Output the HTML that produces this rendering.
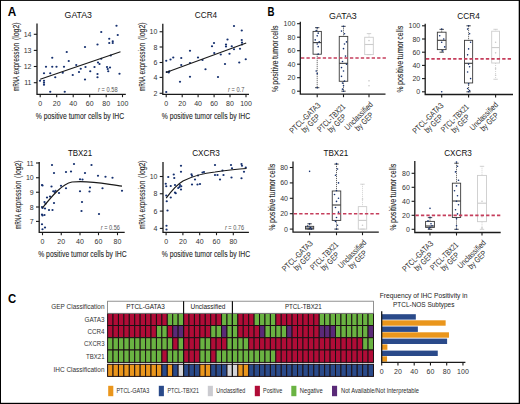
<!DOCTYPE html>
<html><head><meta charset="utf-8"><style>
html,body{margin:0;padding:0;background:#fff;}
svg{display:block;font-family:"Liberation Sans", sans-serif;}
</style></head><body>
<svg width="520" height="404" viewBox="0 0 520 404">
<rect x="0" y="0" width="520" height="404" fill="#000"/>
<rect x="1" y="0.9" width="517.7" height="401.9" fill="#fff"/>
<text x="7.7" y="15.8" font-size="12" font-weight="bold" fill="#000" textLength="8.5" lengthAdjust="spacingAndGlyphs">A</text>
<path d="M37,23.5 V94.4 H125.8" fill="none" stroke="#1a1a1a" stroke-width="1.3"/>
<path d="M33.8,34.3 H37" stroke="#1a1a1a" stroke-width="1.1"/>
<text x="31.50" y="36.80" font-size="7" text-anchor="end" fill="#333" >14</text>
<path d="M33.8,50.4 H37" stroke="#1a1a1a" stroke-width="1.1"/>
<text x="31.50" y="52.90" font-size="7" text-anchor="end" fill="#333" >13</text>
<path d="M33.8,66.5 H37" stroke="#1a1a1a" stroke-width="1.1"/>
<text x="31.50" y="69.00" font-size="7" text-anchor="end" fill="#333" >12</text>
<path d="M33.8,82.7 H37" stroke="#1a1a1a" stroke-width="1.1"/>
<text x="31.50" y="85.20" font-size="7" text-anchor="end" fill="#333" >11</text>
<path d="M40.2,94.4 V97.2" stroke="#1a1a1a" stroke-width="1.1"/>
<text x="40.20" y="106.30" font-size="7" text-anchor="middle" fill="#333" >0</text>
<path d="M56.7,94.4 V97.2" stroke="#1a1a1a" stroke-width="1.1"/>
<text x="56.70" y="106.30" font-size="7" text-anchor="middle" fill="#333" >20</text>
<path d="M73.2,94.4 V97.2" stroke="#1a1a1a" stroke-width="1.1"/>
<text x="73.20" y="106.30" font-size="7" text-anchor="middle" fill="#333" >40</text>
<path d="M89.7,94.4 V97.2" stroke="#1a1a1a" stroke-width="1.1"/>
<text x="89.70" y="106.30" font-size="7" text-anchor="middle" fill="#333" >60</text>
<path d="M106.2,94.4 V97.2" stroke="#1a1a1a" stroke-width="1.1"/>
<text x="106.20" y="106.30" font-size="7" text-anchor="middle" fill="#333" >80</text>
<path d="M122.5,94.4 V97.2" stroke="#1a1a1a" stroke-width="1.1"/>
<text x="122.50" y="106.30" font-size="7" text-anchor="middle" fill="#333" >100</text>
<text x="78.30" y="18.00" font-size="9.2" text-anchor="middle" fill="#111" textLength="27.4" lengthAdjust="spacingAndGlyphs" >GATA3</text>
<circle cx="40.00" cy="80.75" r="1.12" fill="#15306f"/>
<circle cx="44.00" cy="73.25" r="1.12" fill="#15306f"/>
<circle cx="44.00" cy="80.75" r="1.12" fill="#15306f"/>
<circle cx="44.00" cy="82.75" r="1.12" fill="#15306f"/>
<circle cx="44.00" cy="84.75" r="1.12" fill="#15306f"/>
<circle cx="46.00" cy="66.75" r="1.12" fill="#15306f"/>
<circle cx="50.25" cy="91.75" r="1.12" fill="#15306f"/>
<circle cx="50.25" cy="73.25" r="1.12" fill="#15306f"/>
<circle cx="52.25" cy="57.75" r="1.12" fill="#15306f"/>
<circle cx="52.25" cy="66.75" r="1.12" fill="#15306f"/>
<circle cx="55.25" cy="77.25" r="1.12" fill="#15306f"/>
<circle cx="56.50" cy="66.75" r="1.12" fill="#15306f"/>
<circle cx="62.75" cy="72.75" r="1.12" fill="#15306f"/>
<circle cx="64.00" cy="66.75" r="1.12" fill="#15306f"/>
<circle cx="64.75" cy="91.75" r="1.12" fill="#15306f"/>
<circle cx="66.75" cy="52.00" r="1.12" fill="#15306f"/>
<circle cx="68.75" cy="61.00" r="1.12" fill="#15306f"/>
<circle cx="72.75" cy="75.00" r="1.12" fill="#15306f"/>
<circle cx="76.25" cy="65.00" r="1.12" fill="#15306f"/>
<circle cx="79.00" cy="72.00" r="1.12" fill="#15306f"/>
<circle cx="80.75" cy="68.75" r="1.12" fill="#15306f"/>
<circle cx="85.00" cy="47.00" r="1.12" fill="#15306f"/>
<circle cx="85.00" cy="79.50" r="1.12" fill="#15306f"/>
<circle cx="85.50" cy="67.00" r="1.12" fill="#15306f"/>
<circle cx="90.25" cy="71.25" r="1.12" fill="#15306f"/>
<circle cx="94.50" cy="67.00" r="1.12" fill="#15306f"/>
<circle cx="97.50" cy="44.50" r="1.12" fill="#15306f"/>
<circle cx="97.50" cy="74.00" r="1.12" fill="#15306f"/>
<circle cx="97.50" cy="77.25" r="1.12" fill="#15306f"/>
<circle cx="98.00" cy="62.50" r="1.12" fill="#15306f"/>
<circle cx="99.50" cy="64.00" r="1.12" fill="#15306f"/>
<circle cx="101.25" cy="32.00" r="1.12" fill="#15306f"/>
<circle cx="101.25" cy="58.75" r="1.12" fill="#15306f"/>
<circle cx="107.00" cy="67.00" r="1.12" fill="#15306f"/>
<circle cx="107.75" cy="69.00" r="1.12" fill="#15306f"/>
<circle cx="108.25" cy="71.25" r="1.12" fill="#15306f"/>
<circle cx="109.25" cy="38.75" r="1.12" fill="#15306f"/>
<circle cx="109.25" cy="43.00" r="1.12" fill="#15306f"/>
<circle cx="110.00" cy="67.50" r="1.12" fill="#15306f"/>
<circle cx="110.75" cy="55.50" r="1.12" fill="#15306f"/>
<circle cx="112.75" cy="41.25" r="1.12" fill="#15306f"/>
<circle cx="112.75" cy="43.00" r="1.12" fill="#15306f"/>
<circle cx="116.50" cy="25.75" r="1.12" fill="#15306f"/>
<circle cx="117.75" cy="35.00" r="1.12" fill="#15306f"/>
<circle cx="119.50" cy="73.75" r="1.12" fill="#15306f"/>
<path d="M40.2,79.2 L120.5,51.8" fill="none" stroke="#1a1a1a" stroke-width="1.2"/>
<text x="117.7" y="91.9" font-size="6.3" text-anchor="end" fill="#555" textLength="19.6" lengthAdjust="spacingAndGlyphs"><tspan font-style="italic">r</tspan> = 0.58</text>
<g transform="translate(19,91) rotate(-90)" font-size="9.3" fill="#1e1e1e" stroke="#1e1e1e" stroke-width="0.1"><text x="0" y="0" textLength="14.7" lengthAdjust="spacingAndGlyphs">mRNA</text><text x="16.5" y="0" textLength="31.7" lengthAdjust="spacingAndGlyphs">expression</text><text x="51" y="0" textLength="17.5" lengthAdjust="spacingAndGlyphs">(log2)</text></g>
<text x="80.00" y="118.70" font-size="9.5" text-anchor="middle" fill="#1e1e1e" textLength="88.4" lengthAdjust="spacingAndGlyphs" stroke="#1e1e1e" stroke-width="0.1">% positive tumor cells by IHC</text>
<path d="M162.8,23.7 V94.4 H249" fill="none" stroke="#1a1a1a" stroke-width="1.3"/>
<path d="M159.60000000000002,31.75 H162.8" stroke="#1a1a1a" stroke-width="1.1"/>
<text x="157.30" y="34.25" font-size="7" text-anchor="end" fill="#333" >10</text>
<path d="M159.60000000000002,47 H162.8" stroke="#1a1a1a" stroke-width="1.1"/>
<text x="157.30" y="49.50" font-size="7" text-anchor="end" fill="#333" >8</text>
<path d="M159.60000000000002,62.5 H162.8" stroke="#1a1a1a" stroke-width="1.1"/>
<text x="157.30" y="65.00" font-size="7" text-anchor="end" fill="#333" >6</text>
<path d="M159.60000000000002,77.4 H162.8" stroke="#1a1a1a" stroke-width="1.1"/>
<text x="157.30" y="79.90" font-size="7" text-anchor="end" fill="#333" >4</text>
<path d="M159.60000000000002,93.3 H162.8" stroke="#1a1a1a" stroke-width="1.1"/>
<text x="157.30" y="95.80" font-size="7" text-anchor="end" fill="#333" >2</text>
<path d="M166.2,94.4 V97.2" stroke="#1a1a1a" stroke-width="1.1"/>
<text x="166.20" y="106.30" font-size="7" text-anchor="middle" fill="#333" >0</text>
<path d="M182.2,94.4 V97.2" stroke="#1a1a1a" stroke-width="1.1"/>
<text x="182.20" y="106.30" font-size="7" text-anchor="middle" fill="#333" >20</text>
<path d="M198.1,94.4 V97.2" stroke="#1a1a1a" stroke-width="1.1"/>
<text x="198.10" y="106.30" font-size="7" text-anchor="middle" fill="#333" >40</text>
<path d="M214.1,94.4 V97.2" stroke="#1a1a1a" stroke-width="1.1"/>
<text x="214.10" y="106.30" font-size="7" text-anchor="middle" fill="#333" >60</text>
<path d="M230,94.4 V97.2" stroke="#1a1a1a" stroke-width="1.1"/>
<text x="230.00" y="106.30" font-size="7" text-anchor="middle" fill="#333" >80</text>
<path d="M246,94.4 V97.2" stroke="#1a1a1a" stroke-width="1.1"/>
<text x="246.00" y="106.30" font-size="7" text-anchor="middle" fill="#333" >100</text>
<text x="206.00" y="18.30" font-size="9.2" text-anchor="middle" fill="#111" textLength="22.3" lengthAdjust="spacingAndGlyphs" >CCR4</text>
<circle cx="166.25" cy="92.00" r="1.12" fill="#15306f"/>
<circle cx="166.25" cy="60.75" r="1.12" fill="#15306f"/>
<circle cx="166.75" cy="72.00" r="1.12" fill="#15306f"/>
<circle cx="168.75" cy="72.50" r="1.12" fill="#15306f"/>
<circle cx="169.25" cy="71.25" r="1.12" fill="#15306f"/>
<circle cx="170.50" cy="59.50" r="1.12" fill="#15306f"/>
<circle cx="173.25" cy="57.50" r="1.12" fill="#15306f"/>
<circle cx="180.00" cy="81.75" r="1.12" fill="#15306f"/>
<circle cx="181.25" cy="58.00" r="1.12" fill="#15306f"/>
<circle cx="181.25" cy="65.00" r="1.12" fill="#15306f"/>
<circle cx="190.00" cy="50.75" r="1.12" fill="#15306f"/>
<circle cx="190.00" cy="76.75" r="1.12" fill="#15306f"/>
<circle cx="190.00" cy="63.00" r="1.12" fill="#15306f"/>
<circle cx="198.00" cy="57.50" r="1.12" fill="#15306f"/>
<circle cx="202.50" cy="60.00" r="1.12" fill="#15306f"/>
<circle cx="205.50" cy="69.25" r="1.12" fill="#15306f"/>
<circle cx="212.00" cy="46.25" r="1.12" fill="#15306f"/>
<circle cx="214.00" cy="43.00" r="1.12" fill="#15306f"/>
<circle cx="214.25" cy="53.00" r="1.12" fill="#15306f"/>
<circle cx="218.00" cy="77.00" r="1.12" fill="#15306f"/>
<circle cx="220.75" cy="54.50" r="1.12" fill="#15306f"/>
<circle cx="225.00" cy="64.00" r="1.12" fill="#15306f"/>
<circle cx="226.00" cy="44.50" r="1.12" fill="#15306f"/>
<circle cx="226.00" cy="46.50" r="1.12" fill="#15306f"/>
<circle cx="227.50" cy="39.50" r="1.12" fill="#15306f"/>
<circle cx="229.50" cy="53.75" r="1.12" fill="#15306f"/>
<circle cx="231.75" cy="46.25" r="1.12" fill="#15306f"/>
<circle cx="234.00" cy="26.00" r="1.12" fill="#15306f"/>
<circle cx="234.00" cy="49.25" r="1.12" fill="#15306f"/>
<circle cx="239.25" cy="62.50" r="1.12" fill="#15306f"/>
<circle cx="240.00" cy="48.75" r="1.12" fill="#15306f"/>
<circle cx="241.75" cy="30.50" r="1.12" fill="#15306f"/>
<circle cx="241.75" cy="40.00" r="1.12" fill="#15306f"/>
<circle cx="242.00" cy="42.50" r="1.12" fill="#15306f"/>
<circle cx="242.00" cy="44.50" r="1.12" fill="#15306f"/>
<circle cx="245.75" cy="59.25" r="1.12" fill="#15306f"/>
<path d="M166,72.5 L246.2,43" fill="none" stroke="#1a1a1a" stroke-width="1.2"/>
<text x="244.4" y="91.5" font-size="6.3" text-anchor="end" fill="#555" textLength="16.4" lengthAdjust="spacingAndGlyphs"><tspan font-style="italic">r</tspan> = 0.7</text>
<g transform="translate(145,91) rotate(-90)" font-size="9.3" fill="#1e1e1e" stroke="#1e1e1e" stroke-width="0.1"><text x="0" y="0" textLength="14.7" lengthAdjust="spacingAndGlyphs">mRNA</text><text x="16.5" y="0" textLength="31.7" lengthAdjust="spacingAndGlyphs">expression</text><text x="51" y="0" textLength="17.5" lengthAdjust="spacingAndGlyphs">(log2)</text></g>
<text x="206.00" y="118.70" font-size="9.5" text-anchor="middle" fill="#1e1e1e" textLength="88.4" lengthAdjust="spacingAndGlyphs" stroke="#1e1e1e" stroke-width="0.1">% positive tumor cells by IHC</text>
<path d="M39.2,162 V232.4 H124.7" fill="none" stroke="#1a1a1a" stroke-width="1.3"/>
<path d="M36.0,163 H39.2" stroke="#1a1a1a" stroke-width="1.1"/>
<text x="33.70" y="165.50" font-size="7" text-anchor="end" fill="#333" >11</text>
<path d="M36.0,177.75 H39.2" stroke="#1a1a1a" stroke-width="1.1"/>
<text x="33.70" y="180.25" font-size="7" text-anchor="end" fill="#333" >10</text>
<path d="M36.0,192.25 H39.2" stroke="#1a1a1a" stroke-width="1.1"/>
<text x="33.70" y="194.75" font-size="7" text-anchor="end" fill="#333" >9</text>
<path d="M36.0,207 H39.2" stroke="#1a1a1a" stroke-width="1.1"/>
<text x="33.70" y="209.50" font-size="7" text-anchor="end" fill="#333" >8</text>
<path d="M36.0,221.4 H39.2" stroke="#1a1a1a" stroke-width="1.1"/>
<text x="33.70" y="223.90" font-size="7" text-anchor="end" fill="#333" >7</text>
<path d="M42.5,232.4 V235.20000000000002" stroke="#1a1a1a" stroke-width="1.1"/>
<text x="42.50" y="244.30" font-size="7" text-anchor="middle" fill="#333" >0</text>
<path d="M61.25,232.4 V235.20000000000002" stroke="#1a1a1a" stroke-width="1.1"/>
<text x="61.25" y="244.30" font-size="7" text-anchor="middle" fill="#333" >20</text>
<path d="M80,232.4 V235.20000000000002" stroke="#1a1a1a" stroke-width="1.1"/>
<text x="80.00" y="244.30" font-size="7" text-anchor="middle" fill="#333" >40</text>
<path d="M98.5,232.4 V235.20000000000002" stroke="#1a1a1a" stroke-width="1.1"/>
<text x="98.50" y="244.30" font-size="7" text-anchor="middle" fill="#333" >60</text>
<path d="M117.5,232.4 V235.20000000000002" stroke="#1a1a1a" stroke-width="1.1"/>
<text x="117.50" y="244.30" font-size="7" text-anchor="middle" fill="#333" >80</text>
<text x="80.00" y="156.10" font-size="9.2" text-anchor="middle" fill="#111" textLength="24.2" lengthAdjust="spacingAndGlyphs" >TBX21</text>
<circle cx="42.00" cy="185.00" r="1.12" fill="#15306f"/>
<circle cx="42.50" cy="185.50" r="1.12" fill="#15306f"/>
<circle cx="42.00" cy="207.00" r="1.12" fill="#15306f"/>
<circle cx="42.50" cy="208.00" r="1.12" fill="#15306f"/>
<circle cx="42.00" cy="214.50" r="1.12" fill="#15306f"/>
<circle cx="42.50" cy="215.50" r="1.12" fill="#15306f"/>
<circle cx="42.00" cy="224.25" r="1.12" fill="#15306f"/>
<circle cx="42.50" cy="229.25" r="1.12" fill="#15306f"/>
<circle cx="45.00" cy="227.50" r="1.12" fill="#15306f"/>
<circle cx="44.50" cy="202.00" r="1.12" fill="#15306f"/>
<circle cx="45.00" cy="208.50" r="1.12" fill="#15306f"/>
<circle cx="44.50" cy="215.00" r="1.12" fill="#15306f"/>
<circle cx="45.50" cy="203.75" r="1.12" fill="#15306f"/>
<circle cx="47.00" cy="197.50" r="1.12" fill="#15306f"/>
<circle cx="49.00" cy="210.00" r="1.12" fill="#15306f"/>
<circle cx="50.00" cy="196.50" r="1.12" fill="#15306f"/>
<circle cx="51.50" cy="186.50" r="1.12" fill="#15306f"/>
<circle cx="52.00" cy="165.00" r="1.12" fill="#15306f"/>
<circle cx="52.50" cy="210.00" r="1.12" fill="#15306f"/>
<circle cx="53.25" cy="191.25" r="1.12" fill="#15306f"/>
<circle cx="54.00" cy="173.00" r="1.12" fill="#15306f"/>
<circle cx="54.00" cy="203.00" r="1.12" fill="#15306f"/>
<circle cx="54.75" cy="192.00" r="1.12" fill="#15306f"/>
<circle cx="55.50" cy="190.75" r="1.12" fill="#15306f"/>
<circle cx="59.00" cy="193.00" r="1.12" fill="#15306f"/>
<circle cx="61.00" cy="185.75" r="1.12" fill="#15306f"/>
<circle cx="66.00" cy="172.00" r="1.12" fill="#15306f"/>
<circle cx="66.00" cy="188.25" r="1.12" fill="#15306f"/>
<circle cx="71.00" cy="171.50" r="1.12" fill="#15306f"/>
<circle cx="74.00" cy="164.00" r="1.12" fill="#15306f"/>
<circle cx="80.00" cy="179.25" r="1.12" fill="#15306f"/>
<circle cx="80.00" cy="191.25" r="1.12" fill="#15306f"/>
<circle cx="82.50" cy="179.50" r="1.12" fill="#15306f"/>
<circle cx="82.00" cy="202.00" r="1.12" fill="#15306f"/>
<circle cx="81.50" cy="211.00" r="1.12" fill="#15306f"/>
<circle cx="85.00" cy="173.00" r="1.12" fill="#15306f"/>
<circle cx="89.50" cy="191.50" r="1.12" fill="#15306f"/>
<circle cx="90.00" cy="187.50" r="1.12" fill="#15306f"/>
<circle cx="91.50" cy="165.00" r="1.12" fill="#15306f"/>
<circle cx="98.00" cy="175.75" r="1.12" fill="#15306f"/>
<circle cx="99.00" cy="214.00" r="1.12" fill="#15306f"/>
<circle cx="102.50" cy="188.25" r="1.12" fill="#15306f"/>
<circle cx="105.50" cy="176.75" r="1.12" fill="#15306f"/>
<circle cx="112.50" cy="177.75" r="1.12" fill="#15306f"/>
<circle cx="122.00" cy="190.75" r="1.12" fill="#15306f"/>
<path d="M42.5,207.8 C52,196 62,184 72,182 C90,180 105,184 122,186.2" fill="none" stroke="#1a1a1a" stroke-width="1.2"/>
<text x="119.9" y="229.5" font-size="6.3" text-anchor="end" fill="#555" textLength="19.2" lengthAdjust="spacingAndGlyphs"><tspan font-style="italic">r</tspan> = 0.56</text>
<g transform="translate(21.4,228.9) rotate(-90)" font-size="9.3" fill="#1e1e1e" stroke="#1e1e1e" stroke-width="0.1"><text x="0" y="0" textLength="14.7" lengthAdjust="spacingAndGlyphs">mRNA</text><text x="16.5" y="0" textLength="31.7" lengthAdjust="spacingAndGlyphs">expression</text><text x="51" y="0" textLength="17.5" lengthAdjust="spacingAndGlyphs">(log2)</text></g>
<text x="82.40" y="256.70" font-size="9.5" text-anchor="middle" fill="#1e1e1e" textLength="88.4" lengthAdjust="spacingAndGlyphs" stroke="#1e1e1e" stroke-width="0.1">% positive tumor cells by IHC</text>
<path d="M163,162 V232.4 H248.9" fill="none" stroke="#1a1a1a" stroke-width="1.3"/>
<path d="M159.8,176.5 H163" stroke="#1a1a1a" stroke-width="1.1"/>
<text x="157.50" y="179.00" font-size="7" text-anchor="end" fill="#333" >10</text>
<path d="M159.8,193.75 H163" stroke="#1a1a1a" stroke-width="1.1"/>
<text x="157.50" y="196.25" font-size="7" text-anchor="end" fill="#333" >8</text>
<path d="M159.8,211.1 H163" stroke="#1a1a1a" stroke-width="1.1"/>
<text x="157.50" y="213.60" font-size="7" text-anchor="end" fill="#333" >6</text>
<path d="M159.8,228.4 H163" stroke="#1a1a1a" stroke-width="1.1"/>
<text x="157.50" y="230.90" font-size="7" text-anchor="end" fill="#333" >4</text>
<path d="M166.1,232.4 V235.20000000000002" stroke="#1a1a1a" stroke-width="1.1"/>
<text x="166.10" y="244.30" font-size="7" text-anchor="middle" fill="#333" >0</text>
<path d="M182.9,232.4 V235.20000000000002" stroke="#1a1a1a" stroke-width="1.1"/>
<text x="182.90" y="244.30" font-size="7" text-anchor="middle" fill="#333" >20</text>
<path d="M199.7,232.4 V235.20000000000002" stroke="#1a1a1a" stroke-width="1.1"/>
<text x="199.70" y="244.30" font-size="7" text-anchor="middle" fill="#333" >40</text>
<path d="M216.5,232.4 V235.20000000000002" stroke="#1a1a1a" stroke-width="1.1"/>
<text x="216.50" y="244.30" font-size="7" text-anchor="middle" fill="#333" >60</text>
<path d="M233.3,232.4 V235.20000000000002" stroke="#1a1a1a" stroke-width="1.1"/>
<text x="233.30" y="244.30" font-size="7" text-anchor="middle" fill="#333" >80</text>
<text x="206.00" y="156.10" font-size="9.2" text-anchor="middle" fill="#111" textLength="27.7" lengthAdjust="spacingAndGlyphs" >CXCR3</text>
<circle cx="165.75" cy="183.75" r="1.12" fill="#15306f"/>
<circle cx="166.25" cy="186.25" r="1.12" fill="#15306f"/>
<circle cx="166.25" cy="195.50" r="1.12" fill="#15306f"/>
<circle cx="166.75" cy="201.25" r="1.12" fill="#15306f"/>
<circle cx="167.50" cy="210.50" r="1.12" fill="#15306f"/>
<circle cx="166.50" cy="225.75" r="1.12" fill="#15306f"/>
<circle cx="166.50" cy="229.50" r="1.12" fill="#15306f"/>
<circle cx="168.25" cy="177.00" r="1.12" fill="#15306f"/>
<circle cx="170.75" cy="186.00" r="1.12" fill="#15306f"/>
<circle cx="170.75" cy="197.50" r="1.12" fill="#15306f"/>
<circle cx="173.75" cy="174.50" r="1.12" fill="#15306f"/>
<circle cx="174.25" cy="178.00" r="1.12" fill="#15306f"/>
<circle cx="175.00" cy="185.00" r="1.12" fill="#15306f"/>
<circle cx="175.00" cy="192.50" r="1.12" fill="#15306f"/>
<circle cx="175.75" cy="193.25" r="1.12" fill="#15306f"/>
<circle cx="178.25" cy="188.00" r="1.12" fill="#15306f"/>
<circle cx="179.50" cy="187.00" r="1.12" fill="#15306f"/>
<circle cx="180.00" cy="185.00" r="1.12" fill="#15306f"/>
<circle cx="181.00" cy="189.50" r="1.12" fill="#15306f"/>
<circle cx="181.00" cy="165.75" r="1.12" fill="#15306f"/>
<circle cx="181.00" cy="171.75" r="1.12" fill="#15306f"/>
<circle cx="181.25" cy="186.25" r="1.12" fill="#15306f"/>
<circle cx="191.50" cy="174.25" r="1.12" fill="#15306f"/>
<circle cx="192.00" cy="175.75" r="1.12" fill="#15306f"/>
<circle cx="192.00" cy="184.50" r="1.12" fill="#15306f"/>
<circle cx="195.00" cy="179.50" r="1.12" fill="#15306f"/>
<circle cx="198.00" cy="175.50" r="1.12" fill="#15306f"/>
<circle cx="197.50" cy="184.50" r="1.12" fill="#15306f"/>
<circle cx="200.00" cy="184.00" r="1.12" fill="#15306f"/>
<circle cx="202.50" cy="172.50" r="1.12" fill="#15306f"/>
<circle cx="204.00" cy="172.00" r="1.12" fill="#15306f"/>
<circle cx="215.00" cy="165.00" r="1.12" fill="#15306f"/>
<circle cx="215.00" cy="175.00" r="1.12" fill="#15306f"/>
<circle cx="217.50" cy="175.00" r="1.12" fill="#15306f"/>
<circle cx="220.00" cy="179.50" r="1.12" fill="#15306f"/>
<circle cx="222.50" cy="170.50" r="1.12" fill="#15306f"/>
<circle cx="223.50" cy="175.00" r="1.12" fill="#15306f"/>
<circle cx="231.00" cy="165.00" r="1.12" fill="#15306f"/>
<circle cx="231.50" cy="177.50" r="1.12" fill="#15306f"/>
<circle cx="232.00" cy="168.25" r="1.12" fill="#15306f"/>
<circle cx="241.50" cy="164.00" r="1.12" fill="#15306f"/>
<circle cx="242.00" cy="165.75" r="1.12" fill="#15306f"/>
<circle cx="241.50" cy="178.25" r="1.12" fill="#15306f"/>
<circle cx="244.00" cy="171.75" r="1.12" fill="#15306f"/>
<circle cx="245.75" cy="167.50" r="1.12" fill="#15306f"/>
<path d="M166.2,198.2 C172,190 178,184 183,181 C195,175 205,173 215,172 C230,170 240,169 246.5,168.5" fill="none" stroke="#1a1a1a" stroke-width="1.2"/>
<text x="244.1" y="229.5" font-size="6.3" text-anchor="end" fill="#555" textLength="19.2" lengthAdjust="spacingAndGlyphs"><tspan font-style="italic">r</tspan> = 0.76</text>
<g transform="translate(145.2,228.9) rotate(-90)" font-size="9.3" fill="#1e1e1e" stroke="#1e1e1e" stroke-width="0.1"><text x="0" y="0" textLength="14.7" lengthAdjust="spacingAndGlyphs">mRNA</text><text x="16.5" y="0" textLength="31.7" lengthAdjust="spacingAndGlyphs">expression</text><text x="51" y="0" textLength="17.5" lengthAdjust="spacingAndGlyphs">(log2)</text></g>
<text x="206.00" y="256.70" font-size="9.5" text-anchor="middle" fill="#1e1e1e" textLength="88.4" lengthAdjust="spacingAndGlyphs" stroke="#1e1e1e" stroke-width="0.1">% positive tumor cells by IHC</text>
<text x="267.5" y="16.2" font-size="12.3" font-weight="bold" fill="#000" textLength="7" lengthAdjust="spacingAndGlyphs">B</text>
<path d="M300.3,21.8 V94.2 H385.5" fill="none" stroke="#1a1a1a" stroke-width="1.3"/>
<path d="M297.1,91.20 H300.3" stroke="#1a1a1a" stroke-width="1.1"/>
<text x="295.30" y="93.70" font-size="7" text-anchor="end" fill="#333" >0</text>
<path d="M297.1,77.70 H300.3" stroke="#1a1a1a" stroke-width="1.1"/>
<text x="295.30" y="80.20" font-size="7" text-anchor="end" fill="#333" >20</text>
<path d="M297.1,64.20 H300.3" stroke="#1a1a1a" stroke-width="1.1"/>
<text x="295.30" y="66.70" font-size="7" text-anchor="end" fill="#333" >40</text>
<path d="M297.1,50.70 H300.3" stroke="#1a1a1a" stroke-width="1.1"/>
<text x="295.30" y="53.20" font-size="7" text-anchor="end" fill="#333" >60</text>
<path d="M297.1,37.20 H300.3" stroke="#1a1a1a" stroke-width="1.1"/>
<text x="295.30" y="39.70" font-size="7" text-anchor="end" fill="#333" >80</text>
<path d="M297.1,23.70 H300.3" stroke="#1a1a1a" stroke-width="1.1"/>
<text x="295.30" y="26.20" font-size="7" text-anchor="end" fill="#333" >100</text>
<text x="342.90" y="18.50" font-size="9.2" text-anchor="middle" fill="#111" textLength="27.7" lengthAdjust="spacingAndGlyphs" >GATA3</text>
<g transform="translate(277.8,92.1) rotate(-90)" font-size="9.3" fill="#1e1e1e" stroke="#1e1e1e" stroke-width="0.1"><text x="0" y="0" textLength="5.9" lengthAdjust="spacingAndGlyphs">%</text><text x="7.4" y="0" textLength="24.3" lengthAdjust="spacingAndGlyphs">positive</text><text x="33" y="0" textLength="18.8" lengthAdjust="spacingAndGlyphs">tumor</text><text x="52.8" y="0" textLength="13.9" lengthAdjust="spacingAndGlyphs">cells</text></g>
<path d="M317.2,94.2 V97.2" stroke="#1a1a1a" stroke-width="1.1"/>
<path d="M317.2,27.68 V31.40 M317.2,54.21 V87.69" stroke="#3a3a3a" stroke-width="0.9" stroke-dasharray="1,1"/>
<path d="M315.0,27.68 H319.4 M315.0,87.69 H319.4" stroke="#3a3a3a" stroke-width="0.9"/>
<rect x="313.05" y="31.40" width="8.3" height="22.81" fill="none" stroke="#3a3a3a" stroke-width="0.9"/>
<path d="M313.05,42.60 H321.35" stroke="#3a3a3a" stroke-width="1.1"/>
<circle cx="317.20" cy="27.75" r="0.8" fill="#15306f"/>
<circle cx="316.20" cy="30.45" r="0.8" fill="#15306f"/>
<circle cx="318.20" cy="33.15" r="0.8" fill="#15306f"/>
<circle cx="317.20" cy="35.85" r="0.8" fill="#15306f"/>
<circle cx="315.20" cy="39.90" r="0.8" fill="#15306f"/>
<circle cx="319.20" cy="41.92" r="0.8" fill="#15306f"/>
<circle cx="317.20" cy="43.95" r="0.8" fill="#15306f"/>
<circle cx="318.20" cy="46.65" r="0.8" fill="#15306f"/>
<circle cx="318.20" cy="54.08" r="0.8" fill="#15306f"/>
<circle cx="316.20" cy="70.95" r="0.8" fill="#15306f"/>
<circle cx="317.20" cy="73.65" r="0.8" fill="#15306f"/>
<circle cx="317.20" cy="87.83" r="0.8" fill="#15306f"/>
<g transform="translate(317.20,94.20) rotate(-45)" font-size="8.3" fill="#2a2a2a" text-anchor="middle"><text x="-25.5" y="10.9" textLength="40" lengthAdjust="spacingAndGlyphs">PTCL-GATA3</text><text x="-25.3" y="18.8" textLength="22.3" lengthAdjust="spacingAndGlyphs">by GEP</text></g>
<path d="M343.5,94.2 V97.2" stroke="#1a1a1a" stroke-width="1.1"/>
<path d="M343.5,26.33 V36.39 M343.5,81.28 V91.20" stroke="#3a3a3a" stroke-width="0.9" stroke-dasharray="1,1"/>
<path d="M341.3,26.33 H345.7 M341.3,91.20 H345.7" stroke="#3a3a3a" stroke-width="0.9"/>
<rect x="339.25" y="36.39" width="8.5" height="44.89" fill="none" stroke="#3a3a3a" stroke-width="0.9"/>
<path d="M339.25,63.32 H347.75" stroke="#3a3a3a" stroke-width="1.1"/>
<circle cx="343.50" cy="26.40" r="0.8" fill="#15306f"/>
<circle cx="341.50" cy="31.12" r="0.8" fill="#15306f"/>
<circle cx="344.50" cy="33.82" r="0.8" fill="#15306f"/>
<circle cx="346.50" cy="41.92" r="0.8" fill="#15306f"/>
<circle cx="344.50" cy="43.95" r="0.8" fill="#15306f"/>
<circle cx="343.50" cy="48.67" r="0.8" fill="#15306f"/>
<circle cx="345.50" cy="56.10" r="0.8" fill="#15306f"/>
<circle cx="342.50" cy="61.50" r="0.8" fill="#15306f"/>
<circle cx="346.50" cy="64.20" r="0.8" fill="#15306f"/>
<circle cx="341.50" cy="67.58" r="0.8" fill="#15306f"/>
<circle cx="343.50" cy="70.95" r="0.8" fill="#15306f"/>
<circle cx="341.50" cy="76.35" r="0.8" fill="#15306f"/>
<circle cx="344.50" cy="81.08" r="0.8" fill="#15306f"/>
<circle cx="342.50" cy="83.10" r="0.8" fill="#15306f"/>
<circle cx="343.50" cy="85.80" r="0.8" fill="#15306f"/>
<circle cx="342.50" cy="89.17" r="0.8" fill="#15306f"/>
<circle cx="343.50" cy="91.20" r="0.8" fill="#15306f"/>
<g transform="translate(343.50,94.20) rotate(-45)" font-size="8.3" fill="#2a2a2a" text-anchor="middle"><text x="-25.5" y="10.9" textLength="35.7" lengthAdjust="spacingAndGlyphs">PTCL-TBX21</text><text x="-25.3" y="18.8" textLength="22.3" lengthAdjust="spacingAndGlyphs">by GEP</text></g>
<path d="M369,94.2 V97.2" stroke="#1a1a1a" stroke-width="1.1"/>
<path d="M369,33.62 V37.27 M369,54.62 V54.62" stroke="#cccccc" stroke-width="0.9" stroke-dasharray="1,1"/>
<path d="M366.8,33.62 H371.2 M366.8,54.62 H371.2" stroke="#cccccc" stroke-width="0.9"/>
<rect x="364.70" y="37.27" width="8.6" height="17.35" fill="none" stroke="#cccccc" stroke-width="0.9"/>
<path d="M364.70,44.49 H373.30" stroke="#cccccc" stroke-width="1.1"/>
<circle cx="369.00" cy="40.58" r="0.8" fill="#c9c9c9"/>
<circle cx="369.00" cy="80.87" r="0.8" fill="#c9c9c9"/>
<circle cx="369.00" cy="85.80" r="0.8" fill="#c9c9c9"/>
<g transform="translate(369.00,94.20) rotate(-45)" font-size="8.3" fill="#2a2a2a" text-anchor="middle"><text x="-22.7" y="10.9" textLength="36.2" lengthAdjust="spacingAndGlyphs">Unclassified</text><text x="-22.7" y="18.8" textLength="22.3" lengthAdjust="spacingAndGlyphs">by GEP</text></g>
<path d="M301.0,58.00 H385.9" stroke="#c53e5c" stroke-width="1.65" stroke-dasharray="3.337,2.1"/>
<path d="M425.2,23.8 V94.5 H513" fill="none" stroke="#1a1a1a" stroke-width="1.3"/>
<path d="M422.0,91.80 H425.2" stroke="#1a1a1a" stroke-width="1.1"/>
<text x="420.20" y="94.30" font-size="7" text-anchor="end" fill="#333" >0</text>
<path d="M422.0,78.60 H425.2" stroke="#1a1a1a" stroke-width="1.1"/>
<text x="420.20" y="81.10" font-size="7" text-anchor="end" fill="#333" >20</text>
<path d="M422.0,65.40 H425.2" stroke="#1a1a1a" stroke-width="1.1"/>
<text x="420.20" y="67.90" font-size="7" text-anchor="end" fill="#333" >40</text>
<path d="M422.0,52.20 H425.2" stroke="#1a1a1a" stroke-width="1.1"/>
<text x="420.20" y="54.70" font-size="7" text-anchor="end" fill="#333" >60</text>
<path d="M422.0,39.00 H425.2" stroke="#1a1a1a" stroke-width="1.1"/>
<text x="420.20" y="41.50" font-size="7" text-anchor="end" fill="#333" >80</text>
<path d="M422.0,25.80 H425.2" stroke="#1a1a1a" stroke-width="1.1"/>
<text x="420.20" y="28.30" font-size="7" text-anchor="end" fill="#333" >100</text>
<text x="468.60" y="18.50" font-size="9.2" text-anchor="middle" fill="#111" textLength="22.5" lengthAdjust="spacingAndGlyphs" >CCR4</text>
<g transform="translate(402.5,92.5) rotate(-90)" font-size="9.3" fill="#1e1e1e" stroke="#1e1e1e" stroke-width="0.1"><text x="0" y="0" textLength="5.9" lengthAdjust="spacingAndGlyphs">%</text><text x="7.4" y="0" textLength="24.3" lengthAdjust="spacingAndGlyphs">positive</text><text x="33" y="0" textLength="18.8" lengthAdjust="spacingAndGlyphs">tumor</text><text x="52.8" y="0" textLength="13.9" lengthAdjust="spacingAndGlyphs">cells</text></g>
<path d="M441.7,94.5 V97.5" stroke="#1a1a1a" stroke-width="1.1"/>
<path d="M441.7,29.36 V32.20 M441.7,49.63 V52.20" stroke="#3a3a3a" stroke-width="0.9" stroke-dasharray="1,1"/>
<path d="M439.5,29.36 H443.9 M439.5,52.20 H443.9" stroke="#3a3a3a" stroke-width="0.9"/>
<rect x="437.35" y="32.20" width="8.7" height="17.42" fill="none" stroke="#3a3a3a" stroke-width="0.9"/>
<path d="M437.35,40.32 H446.05" stroke="#3a3a3a" stroke-width="1.1"/>
<circle cx="441.70" cy="29.10" r="0.8" fill="#15306f"/>
<circle cx="439.70" cy="35.70" r="0.8" fill="#15306f"/>
<circle cx="443.70" cy="39.00" r="0.8" fill="#15306f"/>
<circle cx="441.70" cy="42.30" r="0.8" fill="#15306f"/>
<circle cx="444.70" cy="46.92" r="0.8" fill="#15306f"/>
<circle cx="442.70" cy="50.88" r="0.8" fill="#15306f"/>
<circle cx="441.70" cy="91.80" r="0.8" fill="#15306f"/>
<g transform="translate(440.20,94.50) rotate(-45)" font-size="8.3" fill="#2a2a2a" text-anchor="middle"><text x="-25.5" y="10.9" textLength="40" lengthAdjust="spacingAndGlyphs">PTCL-GATA3</text><text x="-25.3" y="18.8" textLength="22.3" lengthAdjust="spacingAndGlyphs">by GEP</text></g>
<path d="M468.6,94.5 V97.5" stroke="#1a1a1a" stroke-width="1.1"/>
<path d="M468.6,25.80 V40.32 M468.6,82.96 V91.80" stroke="#3a3a3a" stroke-width="0.9" stroke-dasharray="1,1"/>
<path d="M466.40000000000003,25.80 H470.8 M466.40000000000003,91.80 H470.8" stroke="#3a3a3a" stroke-width="0.9"/>
<rect x="464.55" y="40.32" width="8.1" height="42.64" fill="none" stroke="#3a3a3a" stroke-width="0.9"/>
<path d="M464.55,63.29 H472.65" stroke="#3a3a3a" stroke-width="1.1"/>
<circle cx="468.60" cy="25.80" r="0.8" fill="#15306f"/>
<circle cx="467.60" cy="29.10" r="0.8" fill="#15306f"/>
<circle cx="469.60" cy="33.72" r="0.8" fill="#15306f"/>
<circle cx="470.60" cy="42.30" r="0.8" fill="#15306f"/>
<circle cx="468.60" cy="48.90" r="0.8" fill="#15306f"/>
<circle cx="467.60" cy="54.84" r="0.8" fill="#15306f"/>
<circle cx="470.60" cy="58.80" r="0.8" fill="#15306f"/>
<circle cx="468.60" cy="64.08" r="0.8" fill="#15306f"/>
<circle cx="469.60" cy="66.72" r="0.8" fill="#15306f"/>
<circle cx="467.60" cy="72.00" r="0.8" fill="#15306f"/>
<circle cx="470.60" cy="78.60" r="0.8" fill="#15306f"/>
<circle cx="468.60" cy="83.88" r="0.8" fill="#15306f"/>
<circle cx="467.60" cy="88.50" r="0.8" fill="#15306f"/>
<circle cx="469.60" cy="90.48" r="0.8" fill="#15306f"/>
<circle cx="468.60" cy="91.80" r="0.8" fill="#15306f"/>
<g transform="translate(467.10,94.50) rotate(-45)" font-size="8.3" fill="#2a2a2a" text-anchor="middle"><text x="-25.5" y="10.9" textLength="35.7" lengthAdjust="spacingAndGlyphs">PTCL-TBX21</text><text x="-25.3" y="18.8" textLength="22.3" lengthAdjust="spacingAndGlyphs">by GEP</text></g>
<path d="M495.6,94.5 V97.5" stroke="#1a1a1a" stroke-width="1.1"/>
<path d="M495.6,29.30 V31.21 M495.6,63.02 V79.26" stroke="#cccccc" stroke-width="0.9" stroke-dasharray="1,1"/>
<path d="M493.40000000000003,29.30 H497.8 M493.40000000000003,79.26 H497.8" stroke="#cccccc" stroke-width="0.9"/>
<rect x="491.70" y="31.21" width="7.8" height="31.81" fill="none" stroke="#cccccc" stroke-width="0.9"/>
<path d="M491.70,47.58 H499.50" stroke="#cccccc" stroke-width="1.1"/>
<circle cx="495.60" cy="42.30" r="0.8" fill="#c9c9c9"/>
<circle cx="495.60" cy="52.86" r="0.8" fill="#c9c9c9"/>
<circle cx="495.60" cy="68.70" r="0.8" fill="#c9c9c9"/>
<circle cx="495.60" cy="75.30" r="0.8" fill="#c9c9c9"/>
<g transform="translate(494.10,94.50) rotate(-45)" font-size="8.3" fill="#2a2a2a" text-anchor="middle"><text x="-22.7" y="10.9" textLength="36.2" lengthAdjust="spacingAndGlyphs">Unclassified</text><text x="-22.7" y="18.8" textLength="22.3" lengthAdjust="spacingAndGlyphs">by GEP</text></g>
<path d="M425.9,58.80 H511" stroke="#c53e5c" stroke-width="1.65" stroke-dasharray="3.350,2.1"/>
<path d="M293,161.4 V232.2 H378.8" fill="none" stroke="#1a1a1a" stroke-width="1.3"/>
<path d="M289.8,229.10 H293" stroke="#1a1a1a" stroke-width="1.1"/>
<text x="288.00" y="231.60" font-size="7" text-anchor="end" fill="#333" >0</text>
<path d="M289.8,213.70 H293" stroke="#1a1a1a" stroke-width="1.1"/>
<text x="288.00" y="216.20" font-size="7" text-anchor="end" fill="#333" >20</text>
<path d="M289.8,198.30 H293" stroke="#1a1a1a" stroke-width="1.1"/>
<text x="288.00" y="200.80" font-size="7" text-anchor="end" fill="#333" >40</text>
<path d="M289.8,182.90 H293" stroke="#1a1a1a" stroke-width="1.1"/>
<text x="288.00" y="185.40" font-size="7" text-anchor="end" fill="#333" >60</text>
<path d="M289.8,167.50 H293" stroke="#1a1a1a" stroke-width="1.1"/>
<text x="288.00" y="170.00" font-size="7" text-anchor="end" fill="#333" >80</text>
<text x="335.90" y="156.10" font-size="9.2" text-anchor="middle" fill="#111" textLength="24.8" lengthAdjust="spacingAndGlyphs" >TBX21</text>
<g transform="translate(274.5,230.5) rotate(-90)" font-size="9.3" fill="#1e1e1e" stroke="#1e1e1e" stroke-width="0.1"><text x="0" y="0" textLength="5.9" lengthAdjust="spacingAndGlyphs">%</text><text x="7.4" y="0" textLength="24.3" lengthAdjust="spacingAndGlyphs">positive</text><text x="33" y="0" textLength="18.8" lengthAdjust="spacingAndGlyphs">tumor</text><text x="52.8" y="0" textLength="13.9" lengthAdjust="spacingAndGlyphs">cells</text></g>
<path d="M309.6,232.2 V235.2" stroke="#1a1a1a" stroke-width="1.1"/>
<path d="M309.6,223.79 V226.33 M309.6,229.10 V229.10" stroke="#3a3a3a" stroke-width="0.9" stroke-dasharray="1,1"/>
<path d="M307.40000000000003,223.79 H311.8 M307.40000000000003,229.10 H311.8" stroke="#3a3a3a" stroke-width="0.9"/>
<rect x="305.50" y="226.33" width="8.2" height="2.77" fill="none" stroke="#3a3a3a" stroke-width="0.9"/>
<path d="M305.50,228.10 H313.70" stroke="#3a3a3a" stroke-width="1.1"/>
<circle cx="309.60" cy="171.35" r="0.8" fill="#15306f"/>
<circle cx="309.60" cy="223.71" r="0.8" fill="#15306f"/>
<circle cx="307.60" cy="226.02" r="0.8" fill="#15306f"/>
<circle cx="310.60" cy="227.56" r="0.8" fill="#15306f"/>
<circle cx="309.60" cy="228.33" r="0.8" fill="#15306f"/>
<circle cx="311.60" cy="229.10" r="0.8" fill="#15306f"/>
<g transform="translate(309.60,232.20) rotate(-45)" font-size="8.3" fill="#2a2a2a" text-anchor="middle"><text x="-25.5" y="10.9" textLength="40" lengthAdjust="spacingAndGlyphs">PTCL-GATA3</text><text x="-25.3" y="18.8" textLength="22.3" lengthAdjust="spacingAndGlyphs">by GEP</text></g>
<path d="M336.5,232.2 V235.2" stroke="#1a1a1a" stroke-width="1.1"/>
<path d="M336.5,164.11 V190.98 M336.5,220.40 V229.10" stroke="#3a3a3a" stroke-width="0.9" stroke-dasharray="1,1"/>
<path d="M334.3,164.11 H338.7 M334.3,229.10 H338.7" stroke="#3a3a3a" stroke-width="0.9"/>
<rect x="332.25" y="190.98" width="8.5" height="29.41" fill="none" stroke="#3a3a3a" stroke-width="0.9"/>
<path d="M332.25,205.00 H340.75" stroke="#3a3a3a" stroke-width="1.1"/>
<circle cx="336.50" cy="163.65" r="0.8" fill="#15306f"/>
<circle cx="337.50" cy="169.04" r="0.8" fill="#15306f"/>
<circle cx="335.50" cy="175.20" r="0.8" fill="#15306f"/>
<circle cx="338.50" cy="182.90" r="0.8" fill="#15306f"/>
<circle cx="336.50" cy="190.60" r="0.8" fill="#15306f"/>
<circle cx="334.50" cy="194.45" r="0.8" fill="#15306f"/>
<circle cx="338.50" cy="198.30" r="0.8" fill="#15306f"/>
<circle cx="336.50" cy="201.38" r="0.8" fill="#15306f"/>
<circle cx="335.50" cy="207.54" r="0.8" fill="#15306f"/>
<circle cx="338.50" cy="212.16" r="0.8" fill="#15306f"/>
<circle cx="336.50" cy="217.55" r="0.8" fill="#15306f"/>
<circle cx="335.50" cy="221.40" r="0.8" fill="#15306f"/>
<circle cx="337.50" cy="225.25" r="0.8" fill="#15306f"/>
<circle cx="336.50" cy="229.10" r="0.8" fill="#15306f"/>
<g transform="translate(336.50,232.20) rotate(-45)" font-size="8.3" fill="#2a2a2a" text-anchor="middle"><text x="-25.5" y="10.9" textLength="35.7" lengthAdjust="spacingAndGlyphs">PTCL-TBX21</text><text x="-25.3" y="18.8" textLength="22.3" lengthAdjust="spacingAndGlyphs">by GEP</text></g>
<path d="M362.5,232.2 V235.2" stroke="#1a1a1a" stroke-width="1.1"/>
<path d="M362.5,184.21 V206.62 M362.5,229.10 V229.10" stroke="#cccccc" stroke-width="0.9" stroke-dasharray="1,1"/>
<path d="M360.3,184.21 H364.7 M360.3,229.10 H364.7" stroke="#cccccc" stroke-width="0.9"/>
<rect x="358.30" y="206.62" width="8.4" height="22.48" fill="none" stroke="#cccccc" stroke-width="0.9"/>
<path d="M358.30,220.40 H366.70" stroke="#cccccc" stroke-width="1.1"/>
<circle cx="362.50" cy="199.07" r="0.8" fill="#c9c9c9"/>
<circle cx="362.50" cy="225.25" r="0.8" fill="#c9c9c9"/>
<g transform="translate(362.50,232.20) rotate(-45)" font-size="8.3" fill="#2a2a2a" text-anchor="middle"><text x="-22.7" y="10.9" textLength="36.2" lengthAdjust="spacingAndGlyphs">Unclassified</text><text x="-22.7" y="18.8" textLength="22.3" lengthAdjust="spacingAndGlyphs">by GEP</text></g>
<path d="M293.7,213.70 H379.2" stroke="#c53e5c" stroke-width="1.65" stroke-dasharray="3.375,2.1"/>
<path d="M414.8,161.1 V232.5 H500.7" fill="none" stroke="#1a1a1a" stroke-width="1.3"/>
<path d="M411.6,229.30 H414.8" stroke="#1a1a1a" stroke-width="1.1"/>
<text x="409.80" y="231.80" font-size="7" text-anchor="end" fill="#333" >0</text>
<path d="M411.6,215.30 H414.8" stroke="#1a1a1a" stroke-width="1.1"/>
<text x="409.80" y="217.80" font-size="7" text-anchor="end" fill="#333" >20</text>
<path d="M411.6,201.30 H414.8" stroke="#1a1a1a" stroke-width="1.1"/>
<text x="409.80" y="203.80" font-size="7" text-anchor="end" fill="#333" >40</text>
<path d="M411.6,187.30 H414.8" stroke="#1a1a1a" stroke-width="1.1"/>
<text x="409.80" y="189.80" font-size="7" text-anchor="end" fill="#333" >60</text>
<path d="M411.6,173.30 H414.8" stroke="#1a1a1a" stroke-width="1.1"/>
<text x="409.80" y="175.80" font-size="7" text-anchor="end" fill="#333" >80</text>
<text x="458.00" y="156.10" font-size="9.2" text-anchor="middle" fill="#111" textLength="27.7" lengthAdjust="spacingAndGlyphs" >CXCR3</text>
<g transform="translate(396.4,230.5) rotate(-90)" font-size="9.3" fill="#1e1e1e" stroke="#1e1e1e" stroke-width="0.1"><text x="0" y="0" textLength="5.9" lengthAdjust="spacingAndGlyphs">%</text><text x="7.4" y="0" textLength="24.3" lengthAdjust="spacingAndGlyphs">positive</text><text x="33" y="0" textLength="18.8" lengthAdjust="spacingAndGlyphs">tumor</text><text x="52.8" y="0" textLength="13.9" lengthAdjust="spacingAndGlyphs">cells</text></g>
<path d="M430,232.5 V235.5" stroke="#1a1a1a" stroke-width="1.1"/>
<path d="M430,217.61 V221.39 M430,227.41 V229.30" stroke="#3a3a3a" stroke-width="0.9" stroke-dasharray="1,1"/>
<path d="M427.8,217.61 H432.2 M427.8,229.30 H432.2" stroke="#3a3a3a" stroke-width="0.9"/>
<rect x="425.60" y="221.39" width="8.8" height="6.02" fill="none" stroke="#3a3a3a" stroke-width="0.9"/>
<path d="M425.60,226.01 H434.40" stroke="#3a3a3a" stroke-width="1.1"/>
<circle cx="430.00" cy="208.37" r="0.8" fill="#15306f"/>
<circle cx="430.00" cy="217.40" r="0.8" fill="#15306f"/>
<circle cx="428.00" cy="220.90" r="0.8" fill="#15306f"/>
<circle cx="431.00" cy="223.70" r="0.8" fill="#15306f"/>
<circle cx="432.00" cy="225.80" r="0.8" fill="#15306f"/>
<circle cx="430.00" cy="227.20" r="0.8" fill="#15306f"/>
<circle cx="429.00" cy="228.60" r="0.8" fill="#15306f"/>
<g transform="translate(430.00,232.50) rotate(-45)" font-size="8.3" fill="#2a2a2a" text-anchor="middle"><text x="-25.5" y="10.9" textLength="40" lengthAdjust="spacingAndGlyphs">PTCL-GATA3</text><text x="-25.3" y="18.8" textLength="22.3" lengthAdjust="spacingAndGlyphs">by GEP</text></g>
<path d="M456.5,232.5 V235.5" stroke="#1a1a1a" stroke-width="1.1"/>
<path d="M456.5,163.22 V183.17 M456.5,217.47 V229.30" stroke="#3a3a3a" stroke-width="0.9" stroke-dasharray="1,1"/>
<path d="M454.3,163.22 H458.7 M454.3,229.30 H458.7" stroke="#3a3a3a" stroke-width="0.9"/>
<rect x="452.35" y="183.17" width="8.3" height="34.30" fill="none" stroke="#3a3a3a" stroke-width="0.9"/>
<path d="M452.35,201.02 H460.65" stroke="#3a3a3a" stroke-width="1.1"/>
<circle cx="456.50" cy="162.10" r="0.8" fill="#15306f"/>
<circle cx="457.50" cy="166.30" r="0.8" fill="#15306f"/>
<circle cx="455.50" cy="171.90" r="0.8" fill="#15306f"/>
<circle cx="458.50" cy="180.30" r="0.8" fill="#15306f"/>
<circle cx="456.50" cy="185.90" r="0.8" fill="#15306f"/>
<circle cx="454.50" cy="190.80" r="0.8" fill="#15306f"/>
<circle cx="457.50" cy="195.70" r="0.8" fill="#15306f"/>
<circle cx="456.50" cy="201.30" r="0.8" fill="#15306f"/>
<circle cx="458.50" cy="204.80" r="0.8" fill="#15306f"/>
<circle cx="455.50" cy="209.70" r="0.8" fill="#15306f"/>
<circle cx="457.50" cy="213.90" r="0.8" fill="#15306f"/>
<circle cx="456.50" cy="218.80" r="0.8" fill="#15306f"/>
<circle cx="456.50" cy="225.80" r="0.8" fill="#15306f"/>
<circle cx="456.50" cy="229.30" r="0.8" fill="#15306f"/>
<g transform="translate(456.50,232.50) rotate(-45)" font-size="8.3" fill="#2a2a2a" text-anchor="middle"><text x="-25.5" y="10.9" textLength="35.7" lengthAdjust="spacingAndGlyphs">PTCL-TBX21</text><text x="-25.3" y="18.8" textLength="22.3" lengthAdjust="spacingAndGlyphs">by GEP</text></g>
<path d="M482,232.5 V235.5" stroke="#1a1a1a" stroke-width="1.1"/>
<path d="M482,166.30 V175.40 M482,221.67 V229.30" stroke="#cccccc" stroke-width="0.9" stroke-dasharray="1,1"/>
<path d="M479.8,166.30 H484.2 M479.8,229.30 H484.2" stroke="#cccccc" stroke-width="0.9"/>
<rect x="477.55" y="175.40" width="8.9" height="46.27" fill="none" stroke="#cccccc" stroke-width="0.9"/>
<path d="M477.55,203.19 H486.45" stroke="#cccccc" stroke-width="1.1"/>
<circle cx="482.00" cy="201.30" r="0.8" fill="#c9c9c9"/>
<circle cx="482.00" cy="216.70" r="0.8" fill="#c9c9c9"/>
<circle cx="482.00" cy="227.90" r="0.8" fill="#c9c9c9"/>
<g transform="translate(482.00,232.50) rotate(-45)" font-size="8.3" fill="#2a2a2a" text-anchor="middle"><text x="-22.7" y="10.9" textLength="36.2" lengthAdjust="spacingAndGlyphs">Unclassified</text><text x="-22.7" y="18.8" textLength="22.3" lengthAdjust="spacingAndGlyphs">by GEP</text></g>
<path d="M415.5,215.30 H500.3" stroke="#c53e5c" stroke-width="1.65" stroke-dasharray="3.331,2.1"/>
<text x="8" y="303" font-size="12.3" font-weight="bold" fill="#000" textLength="8.2" lengthAdjust="spacingAndGlyphs">C</text>
<rect x="107.60" y="313.30" width="5.43" height="12.20" fill="#b00c37" stroke="#1c1014" stroke-width="1"/>
<rect x="113.03" y="313.30" width="5.43" height="12.20" fill="#b00c37" stroke="#1c1014" stroke-width="1"/>
<rect x="118.45" y="313.30" width="5.43" height="12.20" fill="#b00c37" stroke="#1c1014" stroke-width="1"/>
<rect x="123.88" y="313.30" width="5.43" height="12.20" fill="#b00c37" stroke="#1c1014" stroke-width="1"/>
<rect x="129.31" y="313.30" width="5.43" height="12.20" fill="#b00c37" stroke="#1c1014" stroke-width="1"/>
<rect x="134.73" y="313.30" width="5.43" height="12.20" fill="#b00c37" stroke="#1c1014" stroke-width="1"/>
<rect x="140.16" y="313.30" width="5.43" height="12.20" fill="#b00c37" stroke="#1c1014" stroke-width="1"/>
<rect x="145.59" y="313.30" width="5.43" height="12.20" fill="#b00c37" stroke="#1c1014" stroke-width="1"/>
<rect x="151.01" y="313.30" width="5.43" height="12.20" fill="#b00c37" stroke="#1c1014" stroke-width="1"/>
<rect x="156.44" y="313.30" width="5.43" height="12.20" fill="#b00c37" stroke="#1c1014" stroke-width="1"/>
<rect x="161.87" y="313.30" width="5.43" height="12.20" fill="#b00c37" stroke="#1c1014" stroke-width="1"/>
<rect x="167.29" y="313.30" width="5.43" height="12.20" fill="#6ab342" stroke="#1c1014" stroke-width="1"/>
<rect x="172.72" y="313.30" width="5.43" height="12.20" fill="#6ab342" stroke="#1c1014" stroke-width="1"/>
<rect x="178.14" y="313.30" width="5.43" height="12.20" fill="#6ab342" stroke="#1c1014" stroke-width="1"/>
<rect x="183.57" y="313.30" width="5.43" height="12.20" fill="#b00c37" stroke="#1c1014" stroke-width="1"/>
<rect x="189.00" y="313.30" width="5.43" height="12.20" fill="#b00c37" stroke="#1c1014" stroke-width="1"/>
<rect x="194.42" y="313.30" width="5.43" height="12.20" fill="#b00c37" stroke="#1c1014" stroke-width="1"/>
<rect x="199.85" y="313.30" width="5.43" height="12.20" fill="#b00c37" stroke="#1c1014" stroke-width="1"/>
<rect x="205.28" y="313.30" width="5.43" height="12.20" fill="#b00c37" stroke="#1c1014" stroke-width="1"/>
<rect x="210.70" y="313.30" width="5.43" height="12.20" fill="#b00c37" stroke="#1c1014" stroke-width="1"/>
<rect x="216.13" y="313.30" width="5.43" height="12.20" fill="#b00c37" stroke="#1c1014" stroke-width="1"/>
<rect x="221.56" y="313.30" width="5.43" height="12.20" fill="#6ab342" stroke="#1c1014" stroke-width="1"/>
<rect x="226.98" y="313.30" width="5.43" height="12.20" fill="#6ab342" stroke="#1c1014" stroke-width="1"/>
<rect x="232.41" y="313.30" width="5.43" height="12.20" fill="#6ab342" stroke="#1c1014" stroke-width="1"/>
<rect x="237.84" y="313.30" width="5.43" height="12.20" fill="#b00c37" stroke="#1c1014" stroke-width="1"/>
<rect x="243.26" y="313.30" width="5.43" height="12.20" fill="#b00c37" stroke="#1c1014" stroke-width="1"/>
<rect x="248.69" y="313.30" width="5.43" height="12.20" fill="#b00c37" stroke="#1c1014" stroke-width="1"/>
<rect x="254.12" y="313.30" width="5.43" height="12.20" fill="#6ab342" stroke="#1c1014" stroke-width="1"/>
<rect x="259.54" y="313.30" width="5.43" height="12.20" fill="#6ab342" stroke="#1c1014" stroke-width="1"/>
<rect x="264.97" y="313.30" width="5.43" height="12.20" fill="#6ab342" stroke="#1c1014" stroke-width="1"/>
<rect x="270.40" y="313.30" width="5.43" height="12.20" fill="#6ab342" stroke="#1c1014" stroke-width="1"/>
<rect x="275.82" y="313.30" width="5.43" height="12.20" fill="#b00c37" stroke="#1c1014" stroke-width="1"/>
<rect x="281.25" y="313.30" width="5.43" height="12.20" fill="#b00c37" stroke="#1c1014" stroke-width="1"/>
<rect x="286.68" y="313.30" width="5.43" height="12.20" fill="#b00c37" stroke="#1c1014" stroke-width="1"/>
<rect x="292.10" y="313.30" width="5.43" height="12.20" fill="#b00c37" stroke="#1c1014" stroke-width="1"/>
<rect x="297.53" y="313.30" width="5.43" height="12.20" fill="#b00c37" stroke="#1c1014" stroke-width="1"/>
<rect x="302.96" y="313.30" width="5.43" height="12.20" fill="#b00c37" stroke="#1c1014" stroke-width="1"/>
<rect x="308.38" y="313.30" width="5.43" height="12.20" fill="#b00c37" stroke="#1c1014" stroke-width="1"/>
<rect x="313.81" y="313.30" width="5.43" height="12.20" fill="#b00c37" stroke="#1c1014" stroke-width="1"/>
<rect x="319.23" y="313.30" width="5.43" height="12.20" fill="#6ab342" stroke="#1c1014" stroke-width="1"/>
<rect x="324.66" y="313.30" width="5.43" height="12.20" fill="#6ab342" stroke="#1c1014" stroke-width="1"/>
<rect x="330.09" y="313.30" width="5.43" height="12.20" fill="#6ab342" stroke="#1c1014" stroke-width="1"/>
<rect x="335.51" y="313.30" width="5.43" height="12.20" fill="#6ab342" stroke="#1c1014" stroke-width="1"/>
<rect x="340.94" y="313.30" width="5.43" height="12.20" fill="#6ab342" stroke="#1c1014" stroke-width="1"/>
<rect x="346.37" y="313.30" width="5.43" height="12.20" fill="#6ab342" stroke="#1c1014" stroke-width="1"/>
<rect x="351.79" y="313.30" width="5.43" height="12.20" fill="#6ab342" stroke="#1c1014" stroke-width="1"/>
<rect x="357.22" y="313.30" width="5.43" height="12.20" fill="#6ab342" stroke="#1c1014" stroke-width="1"/>
<rect x="362.65" y="313.30" width="5.43" height="12.20" fill="#6ab342" stroke="#1c1014" stroke-width="1"/>
<rect x="368.07" y="313.30" width="5.43" height="12.20" fill="#6ab342" stroke="#1c1014" stroke-width="1"/>
<rect x="107.60" y="325.50" width="5.43" height="12.20" fill="#b00c37" stroke="#1c1014" stroke-width="1"/>
<rect x="113.03" y="325.50" width="5.43" height="12.20" fill="#b00c37" stroke="#1c1014" stroke-width="1"/>
<rect x="118.45" y="325.50" width="5.43" height="12.20" fill="#b00c37" stroke="#1c1014" stroke-width="1"/>
<rect x="123.88" y="325.50" width="5.43" height="12.20" fill="#b00c37" stroke="#1c1014" stroke-width="1"/>
<rect x="129.31" y="325.50" width="5.43" height="12.20" fill="#b00c37" stroke="#1c1014" stroke-width="1"/>
<rect x="134.73" y="325.50" width="5.43" height="12.20" fill="#b00c37" stroke="#1c1014" stroke-width="1"/>
<rect x="140.16" y="325.50" width="5.43" height="12.20" fill="#b00c37" stroke="#1c1014" stroke-width="1"/>
<rect x="145.59" y="325.50" width="5.43" height="12.20" fill="#b00c37" stroke="#1c1014" stroke-width="1"/>
<rect x="151.01" y="325.50" width="5.43" height="12.20" fill="#b00c37" stroke="#1c1014" stroke-width="1"/>
<rect x="156.44" y="325.50" width="5.43" height="12.20" fill="#6ab342" stroke="#1c1014" stroke-width="1"/>
<rect x="161.87" y="325.50" width="5.43" height="12.20" fill="#6ab342" stroke="#1c1014" stroke-width="1"/>
<rect x="167.29" y="325.50" width="5.43" height="12.20" fill="#b00c37" stroke="#1c1014" stroke-width="1"/>
<rect x="172.72" y="325.50" width="5.43" height="12.20" fill="#5a2a78" stroke="#1c1014" stroke-width="1"/>
<rect x="178.14" y="325.50" width="5.43" height="12.20" fill="#5a2a78" stroke="#1c1014" stroke-width="1"/>
<rect x="183.57" y="325.50" width="5.43" height="12.20" fill="#b00c37" stroke="#1c1014" stroke-width="1"/>
<rect x="189.00" y="325.50" width="5.43" height="12.20" fill="#b00c37" stroke="#1c1014" stroke-width="1"/>
<rect x="194.42" y="325.50" width="5.43" height="12.20" fill="#b00c37" stroke="#1c1014" stroke-width="1"/>
<rect x="199.85" y="325.50" width="5.43" height="12.20" fill="#b00c37" stroke="#1c1014" stroke-width="1"/>
<rect x="205.28" y="325.50" width="5.43" height="12.20" fill="#b00c37" stroke="#1c1014" stroke-width="1"/>
<rect x="210.70" y="325.50" width="5.43" height="12.20" fill="#6ab342" stroke="#1c1014" stroke-width="1"/>
<rect x="216.13" y="325.50" width="5.43" height="12.20" fill="#6ab342" stroke="#1c1014" stroke-width="1"/>
<rect x="221.56" y="325.50" width="5.43" height="12.20" fill="#5a2a78" stroke="#1c1014" stroke-width="1"/>
<rect x="226.98" y="325.50" width="5.43" height="12.20" fill="#6ab342" stroke="#1c1014" stroke-width="1"/>
<rect x="232.41" y="325.50" width="5.43" height="12.20" fill="#6ab342" stroke="#1c1014" stroke-width="1"/>
<rect x="237.84" y="325.50" width="5.43" height="12.20" fill="#b00c37" stroke="#1c1014" stroke-width="1"/>
<rect x="243.26" y="325.50" width="5.43" height="12.20" fill="#b00c37" stroke="#1c1014" stroke-width="1"/>
<rect x="248.69" y="325.50" width="5.43" height="12.20" fill="#b00c37" stroke="#1c1014" stroke-width="1"/>
<rect x="254.12" y="325.50" width="5.43" height="12.20" fill="#b00c37" stroke="#1c1014" stroke-width="1"/>
<rect x="259.54" y="325.50" width="5.43" height="12.20" fill="#5a2a78" stroke="#1c1014" stroke-width="1"/>
<rect x="264.97" y="325.50" width="5.43" height="12.20" fill="#6ab342" stroke="#1c1014" stroke-width="1"/>
<rect x="270.40" y="325.50" width="5.43" height="12.20" fill="#6ab342" stroke="#1c1014" stroke-width="1"/>
<rect x="275.82" y="325.50" width="5.43" height="12.20" fill="#6ab342" stroke="#1c1014" stroke-width="1"/>
<rect x="281.25" y="325.50" width="5.43" height="12.20" fill="#6ab342" stroke="#1c1014" stroke-width="1"/>
<rect x="286.68" y="325.50" width="5.43" height="12.20" fill="#5a2a78" stroke="#1c1014" stroke-width="1"/>
<rect x="292.10" y="325.50" width="5.43" height="12.20" fill="#b00c37" stroke="#1c1014" stroke-width="1"/>
<rect x="297.53" y="325.50" width="5.43" height="12.20" fill="#b00c37" stroke="#1c1014" stroke-width="1"/>
<rect x="302.96" y="325.50" width="5.43" height="12.20" fill="#b00c37" stroke="#1c1014" stroke-width="1"/>
<rect x="308.38" y="325.50" width="5.43" height="12.20" fill="#b00c37" stroke="#1c1014" stroke-width="1"/>
<rect x="313.81" y="325.50" width="5.43" height="12.20" fill="#b00c37" stroke="#1c1014" stroke-width="1"/>
<rect x="319.23" y="325.50" width="5.43" height="12.20" fill="#5a2a78" stroke="#1c1014" stroke-width="1"/>
<rect x="324.66" y="325.50" width="5.43" height="12.20" fill="#5a2a78" stroke="#1c1014" stroke-width="1"/>
<rect x="330.09" y="325.50" width="5.43" height="12.20" fill="#5a2a78" stroke="#1c1014" stroke-width="1"/>
<rect x="335.51" y="325.50" width="5.43" height="12.20" fill="#6ab342" stroke="#1c1014" stroke-width="1"/>
<rect x="340.94" y="325.50" width="5.43" height="12.20" fill="#6ab342" stroke="#1c1014" stroke-width="1"/>
<rect x="346.37" y="325.50" width="5.43" height="12.20" fill="#6ab342" stroke="#1c1014" stroke-width="1"/>
<rect x="351.79" y="325.50" width="5.43" height="12.20" fill="#6ab342" stroke="#1c1014" stroke-width="1"/>
<rect x="357.22" y="325.50" width="5.43" height="12.20" fill="#6ab342" stroke="#1c1014" stroke-width="1"/>
<rect x="362.65" y="325.50" width="5.43" height="12.20" fill="#6ab342" stroke="#1c1014" stroke-width="1"/>
<rect x="368.07" y="325.50" width="5.43" height="12.20" fill="#5a2a78" stroke="#1c1014" stroke-width="1"/>
<rect x="107.60" y="337.70" width="5.43" height="12.30" fill="#6ab342" stroke="#1c1014" stroke-width="1"/>
<rect x="113.03" y="337.70" width="5.43" height="12.30" fill="#6ab342" stroke="#1c1014" stroke-width="1"/>
<rect x="118.45" y="337.70" width="5.43" height="12.30" fill="#6ab342" stroke="#1c1014" stroke-width="1"/>
<rect x="123.88" y="337.70" width="5.43" height="12.30" fill="#6ab342" stroke="#1c1014" stroke-width="1"/>
<rect x="129.31" y="337.70" width="5.43" height="12.30" fill="#6ab342" stroke="#1c1014" stroke-width="1"/>
<rect x="134.73" y="337.70" width="5.43" height="12.30" fill="#6ab342" stroke="#1c1014" stroke-width="1"/>
<rect x="140.16" y="337.70" width="5.43" height="12.30" fill="#6ab342" stroke="#1c1014" stroke-width="1"/>
<rect x="145.59" y="337.70" width="5.43" height="12.30" fill="#6ab342" stroke="#1c1014" stroke-width="1"/>
<rect x="151.01" y="337.70" width="5.43" height="12.30" fill="#6ab342" stroke="#1c1014" stroke-width="1"/>
<rect x="156.44" y="337.70" width="5.43" height="12.30" fill="#6ab342" stroke="#1c1014" stroke-width="1"/>
<rect x="161.87" y="337.70" width="5.43" height="12.30" fill="#6ab342" stroke="#1c1014" stroke-width="1"/>
<rect x="167.29" y="337.70" width="5.43" height="12.30" fill="#6ab342" stroke="#1c1014" stroke-width="1"/>
<rect x="172.72" y="337.70" width="5.43" height="12.30" fill="#b00c37" stroke="#1c1014" stroke-width="1"/>
<rect x="178.14" y="337.70" width="5.43" height="12.30" fill="#6ab342" stroke="#1c1014" stroke-width="1"/>
<rect x="183.57" y="337.70" width="5.43" height="12.30" fill="#b00c37" stroke="#1c1014" stroke-width="1"/>
<rect x="189.00" y="337.70" width="5.43" height="12.30" fill="#b00c37" stroke="#1c1014" stroke-width="1"/>
<rect x="194.42" y="337.70" width="5.43" height="12.30" fill="#b00c37" stroke="#1c1014" stroke-width="1"/>
<rect x="199.85" y="337.70" width="5.43" height="12.30" fill="#6ab342" stroke="#1c1014" stroke-width="1"/>
<rect x="205.28" y="337.70" width="5.43" height="12.30" fill="#6ab342" stroke="#1c1014" stroke-width="1"/>
<rect x="210.70" y="337.70" width="5.43" height="12.30" fill="#b00c37" stroke="#1c1014" stroke-width="1"/>
<rect x="216.13" y="337.70" width="5.43" height="12.30" fill="#b00c37" stroke="#1c1014" stroke-width="1"/>
<rect x="221.56" y="337.70" width="5.43" height="12.30" fill="#b00c37" stroke="#1c1014" stroke-width="1"/>
<rect x="226.98" y="337.70" width="5.43" height="12.30" fill="#6ab342" stroke="#1c1014" stroke-width="1"/>
<rect x="232.41" y="337.70" width="5.43" height="12.30" fill="#6ab342" stroke="#1c1014" stroke-width="1"/>
<rect x="237.84" y="337.70" width="5.43" height="12.30" fill="#6ab342" stroke="#1c1014" stroke-width="1"/>
<rect x="243.26" y="337.70" width="5.43" height="12.30" fill="#6ab342" stroke="#1c1014" stroke-width="1"/>
<rect x="248.69" y="337.70" width="5.43" height="12.30" fill="#b00c37" stroke="#1c1014" stroke-width="1"/>
<rect x="254.12" y="337.70" width="5.43" height="12.30" fill="#b00c37" stroke="#1c1014" stroke-width="1"/>
<rect x="259.54" y="337.70" width="5.43" height="12.30" fill="#b00c37" stroke="#1c1014" stroke-width="1"/>
<rect x="264.97" y="337.70" width="5.43" height="12.30" fill="#b00c37" stroke="#1c1014" stroke-width="1"/>
<rect x="270.40" y="337.70" width="5.43" height="12.30" fill="#b00c37" stroke="#1c1014" stroke-width="1"/>
<rect x="275.82" y="337.70" width="5.43" height="12.30" fill="#b00c37" stroke="#1c1014" stroke-width="1"/>
<rect x="281.25" y="337.70" width="5.43" height="12.30" fill="#b00c37" stroke="#1c1014" stroke-width="1"/>
<rect x="286.68" y="337.70" width="5.43" height="12.30" fill="#b00c37" stroke="#1c1014" stroke-width="1"/>
<rect x="292.10" y="337.70" width="5.43" height="12.30" fill="#b00c37" stroke="#1c1014" stroke-width="1"/>
<rect x="297.53" y="337.70" width="5.43" height="12.30" fill="#b00c37" stroke="#1c1014" stroke-width="1"/>
<rect x="302.96" y="337.70" width="5.43" height="12.30" fill="#b00c37" stroke="#1c1014" stroke-width="1"/>
<rect x="308.38" y="337.70" width="5.43" height="12.30" fill="#b00c37" stroke="#1c1014" stroke-width="1"/>
<rect x="313.81" y="337.70" width="5.43" height="12.30" fill="#b00c37" stroke="#1c1014" stroke-width="1"/>
<rect x="319.23" y="337.70" width="5.43" height="12.30" fill="#b00c37" stroke="#1c1014" stroke-width="1"/>
<rect x="324.66" y="337.70" width="5.43" height="12.30" fill="#b00c37" stroke="#1c1014" stroke-width="1"/>
<rect x="330.09" y="337.70" width="5.43" height="12.30" fill="#b00c37" stroke="#1c1014" stroke-width="1"/>
<rect x="335.51" y="337.70" width="5.43" height="12.30" fill="#b00c37" stroke="#1c1014" stroke-width="1"/>
<rect x="340.94" y="337.70" width="5.43" height="12.30" fill="#b00c37" stroke="#1c1014" stroke-width="1"/>
<rect x="346.37" y="337.70" width="5.43" height="12.30" fill="#b00c37" stroke="#1c1014" stroke-width="1"/>
<rect x="351.79" y="337.70" width="5.43" height="12.30" fill="#b00c37" stroke="#1c1014" stroke-width="1"/>
<rect x="357.22" y="337.70" width="5.43" height="12.30" fill="#b00c37" stroke="#1c1014" stroke-width="1"/>
<rect x="362.65" y="337.70" width="5.43" height="12.30" fill="#6ab342" stroke="#1c1014" stroke-width="1"/>
<rect x="368.07" y="337.70" width="5.43" height="12.30" fill="#6ab342" stroke="#1c1014" stroke-width="1"/>
<rect x="107.60" y="350.00" width="5.43" height="12.40" fill="#6ab342" stroke="#1c1014" stroke-width="1"/>
<rect x="113.03" y="350.00" width="5.43" height="12.40" fill="#6ab342" stroke="#1c1014" stroke-width="1"/>
<rect x="118.45" y="350.00" width="5.43" height="12.40" fill="#6ab342" stroke="#1c1014" stroke-width="1"/>
<rect x="123.88" y="350.00" width="5.43" height="12.40" fill="#6ab342" stroke="#1c1014" stroke-width="1"/>
<rect x="129.31" y="350.00" width="5.43" height="12.40" fill="#6ab342" stroke="#1c1014" stroke-width="1"/>
<rect x="134.73" y="350.00" width="5.43" height="12.40" fill="#6ab342" stroke="#1c1014" stroke-width="1"/>
<rect x="140.16" y="350.00" width="5.43" height="12.40" fill="#6ab342" stroke="#1c1014" stroke-width="1"/>
<rect x="145.59" y="350.00" width="5.43" height="12.40" fill="#6ab342" stroke="#1c1014" stroke-width="1"/>
<rect x="151.01" y="350.00" width="5.43" height="12.40" fill="#6ab342" stroke="#1c1014" stroke-width="1"/>
<rect x="156.44" y="350.00" width="5.43" height="12.40" fill="#6ab342" stroke="#1c1014" stroke-width="1"/>
<rect x="161.87" y="350.00" width="5.43" height="12.40" fill="#b00c37" stroke="#1c1014" stroke-width="1"/>
<rect x="167.29" y="350.00" width="5.43" height="12.40" fill="#6ab342" stroke="#1c1014" stroke-width="1"/>
<rect x="172.72" y="350.00" width="5.43" height="12.40" fill="#6ab342" stroke="#1c1014" stroke-width="1"/>
<rect x="178.14" y="350.00" width="5.43" height="12.40" fill="#6ab342" stroke="#1c1014" stroke-width="1"/>
<rect x="183.57" y="350.00" width="5.43" height="12.40" fill="#b00c37" stroke="#1c1014" stroke-width="1"/>
<rect x="189.00" y="350.00" width="5.43" height="12.40" fill="#b00c37" stroke="#1c1014" stroke-width="1"/>
<rect x="194.42" y="350.00" width="5.43" height="12.40" fill="#b00c37" stroke="#1c1014" stroke-width="1"/>
<rect x="199.85" y="350.00" width="5.43" height="12.40" fill="#6ab342" stroke="#1c1014" stroke-width="1"/>
<rect x="205.28" y="350.00" width="5.43" height="12.40" fill="#6ab342" stroke="#1c1014" stroke-width="1"/>
<rect x="210.70" y="350.00" width="5.43" height="12.40" fill="#b00c37" stroke="#1c1014" stroke-width="1"/>
<rect x="216.13" y="350.00" width="5.43" height="12.40" fill="#6ab342" stroke="#1c1014" stroke-width="1"/>
<rect x="221.56" y="350.00" width="5.43" height="12.40" fill="#6ab342" stroke="#1c1014" stroke-width="1"/>
<rect x="226.98" y="350.00" width="5.43" height="12.40" fill="#6ab342" stroke="#1c1014" stroke-width="1"/>
<rect x="232.41" y="350.00" width="5.43" height="12.40" fill="#6ab342" stroke="#1c1014" stroke-width="1"/>
<rect x="237.84" y="350.00" width="5.43" height="12.40" fill="#6ab342" stroke="#1c1014" stroke-width="1"/>
<rect x="243.26" y="350.00" width="5.43" height="12.40" fill="#6ab342" stroke="#1c1014" stroke-width="1"/>
<rect x="248.69" y="350.00" width="5.43" height="12.40" fill="#6ab342" stroke="#1c1014" stroke-width="1"/>
<rect x="254.12" y="350.00" width="5.43" height="12.40" fill="#6ab342" stroke="#1c1014" stroke-width="1"/>
<rect x="259.54" y="350.00" width="5.43" height="12.40" fill="#6ab342" stroke="#1c1014" stroke-width="1"/>
<rect x="264.97" y="350.00" width="5.43" height="12.40" fill="#6ab342" stroke="#1c1014" stroke-width="1"/>
<rect x="270.40" y="350.00" width="5.43" height="12.40" fill="#6ab342" stroke="#1c1014" stroke-width="1"/>
<rect x="275.82" y="350.00" width="5.43" height="12.40" fill="#b00c37" stroke="#1c1014" stroke-width="1"/>
<rect x="281.25" y="350.00" width="5.43" height="12.40" fill="#b00c37" stroke="#1c1014" stroke-width="1"/>
<rect x="286.68" y="350.00" width="5.43" height="12.40" fill="#b00c37" stroke="#1c1014" stroke-width="1"/>
<rect x="292.10" y="350.00" width="5.43" height="12.40" fill="#b00c37" stroke="#1c1014" stroke-width="1"/>
<rect x="297.53" y="350.00" width="5.43" height="12.40" fill="#b00c37" stroke="#1c1014" stroke-width="1"/>
<rect x="302.96" y="350.00" width="5.43" height="12.40" fill="#b00c37" stroke="#1c1014" stroke-width="1"/>
<rect x="308.38" y="350.00" width="5.43" height="12.40" fill="#b00c37" stroke="#1c1014" stroke-width="1"/>
<rect x="313.81" y="350.00" width="5.43" height="12.40" fill="#b00c37" stroke="#1c1014" stroke-width="1"/>
<rect x="319.23" y="350.00" width="5.43" height="12.40" fill="#b00c37" stroke="#1c1014" stroke-width="1"/>
<rect x="324.66" y="350.00" width="5.43" height="12.40" fill="#b00c37" stroke="#1c1014" stroke-width="1"/>
<rect x="330.09" y="350.00" width="5.43" height="12.40" fill="#b00c37" stroke="#1c1014" stroke-width="1"/>
<rect x="335.51" y="350.00" width="5.43" height="12.40" fill="#b00c37" stroke="#1c1014" stroke-width="1"/>
<rect x="340.94" y="350.00" width="5.43" height="12.40" fill="#b00c37" stroke="#1c1014" stroke-width="1"/>
<rect x="346.37" y="350.00" width="5.43" height="12.40" fill="#b00c37" stroke="#1c1014" stroke-width="1"/>
<rect x="351.79" y="350.00" width="5.43" height="12.40" fill="#b00c37" stroke="#1c1014" stroke-width="1"/>
<rect x="357.22" y="350.00" width="5.43" height="12.40" fill="#b00c37" stroke="#1c1014" stroke-width="1"/>
<rect x="362.65" y="350.00" width="5.43" height="12.40" fill="#b00c37" stroke="#1c1014" stroke-width="1"/>
<rect x="368.07" y="350.00" width="5.43" height="12.40" fill="#b00c37" stroke="#1c1014" stroke-width="1"/>
<rect x="107.60" y="364.30" width="5.43" height="12.10" fill="#ea961c" stroke="#1c1014" stroke-width="1"/>
<rect x="113.03" y="364.30" width="5.43" height="12.10" fill="#ea961c" stroke="#1c1014" stroke-width="1"/>
<rect x="118.45" y="364.30" width="5.43" height="12.10" fill="#ea961c" stroke="#1c1014" stroke-width="1"/>
<rect x="123.88" y="364.30" width="5.43" height="12.10" fill="#ea961c" stroke="#1c1014" stroke-width="1"/>
<rect x="129.31" y="364.30" width="5.43" height="12.10" fill="#ea961c" stroke="#1c1014" stroke-width="1"/>
<rect x="134.73" y="364.30" width="5.43" height="12.10" fill="#ea961c" stroke="#1c1014" stroke-width="1"/>
<rect x="140.16" y="364.30" width="5.43" height="12.10" fill="#ea961c" stroke="#1c1014" stroke-width="1"/>
<rect x="145.59" y="364.30" width="5.43" height="12.10" fill="#ea961c" stroke="#1c1014" stroke-width="1"/>
<rect x="151.01" y="364.30" width="5.43" height="12.10" fill="#ea961c" stroke="#1c1014" stroke-width="1"/>
<rect x="156.44" y="364.30" width="5.43" height="12.10" fill="#ea961c" stroke="#1c1014" stroke-width="1"/>
<rect x="161.87" y="364.30" width="5.43" height="12.10" fill="#2a4a8a" stroke="#1c1014" stroke-width="1"/>
<rect x="167.29" y="364.30" width="5.43" height="12.10" fill="#ea961c" stroke="#1c1014" stroke-width="1"/>
<rect x="172.72" y="364.30" width="5.43" height="12.10" fill="#2a4a8a" stroke="#1c1014" stroke-width="1"/>
<rect x="178.14" y="364.30" width="5.43" height="12.10" fill="#d4d4d8" stroke="#1c1014" stroke-width="1"/>
<rect x="183.57" y="364.30" width="5.43" height="12.10" fill="#2a4a8a" stroke="#1c1014" stroke-width="1"/>
<rect x="189.00" y="364.30" width="5.43" height="12.10" fill="#2a4a8a" stroke="#1c1014" stroke-width="1"/>
<rect x="194.42" y="364.30" width="5.43" height="12.10" fill="#2a4a8a" stroke="#1c1014" stroke-width="1"/>
<rect x="199.85" y="364.30" width="5.43" height="12.10" fill="#ea961c" stroke="#1c1014" stroke-width="1"/>
<rect x="205.28" y="364.30" width="5.43" height="12.10" fill="#ea961c" stroke="#1c1014" stroke-width="1"/>
<rect x="210.70" y="364.30" width="5.43" height="12.10" fill="#2a4a8a" stroke="#1c1014" stroke-width="1"/>
<rect x="216.13" y="364.30" width="5.43" height="12.10" fill="#2a4a8a" stroke="#1c1014" stroke-width="1"/>
<rect x="221.56" y="364.30" width="5.43" height="12.10" fill="#2a4a8a" stroke="#1c1014" stroke-width="1"/>
<rect x="226.98" y="364.30" width="5.43" height="12.10" fill="#d4d4d8" stroke="#1c1014" stroke-width="1"/>
<rect x="232.41" y="364.30" width="5.43" height="12.10" fill="#d4d4d8" stroke="#1c1014" stroke-width="1"/>
<rect x="237.84" y="364.30" width="5.43" height="12.10" fill="#ea961c" stroke="#1c1014" stroke-width="1"/>
<rect x="243.26" y="364.30" width="5.43" height="12.10" fill="#ea961c" stroke="#1c1014" stroke-width="1"/>
<rect x="248.69" y="364.30" width="5.43" height="12.10" fill="#2a4a8a" stroke="#1c1014" stroke-width="1"/>
<rect x="254.12" y="364.30" width="5.43" height="12.10" fill="#2a4a8a" stroke="#1c1014" stroke-width="1"/>
<rect x="259.54" y="364.30" width="5.43" height="12.10" fill="#2a4a8a" stroke="#1c1014" stroke-width="1"/>
<rect x="264.97" y="364.30" width="5.43" height="12.10" fill="#2a4a8a" stroke="#1c1014" stroke-width="1"/>
<rect x="270.40" y="364.30" width="5.43" height="12.10" fill="#2a4a8a" stroke="#1c1014" stroke-width="1"/>
<rect x="275.82" y="364.30" width="5.43" height="12.10" fill="#2a4a8a" stroke="#1c1014" stroke-width="1"/>
<rect x="281.25" y="364.30" width="5.43" height="12.10" fill="#2a4a8a" stroke="#1c1014" stroke-width="1"/>
<rect x="286.68" y="364.30" width="5.43" height="12.10" fill="#2a4a8a" stroke="#1c1014" stroke-width="1"/>
<rect x="292.10" y="364.30" width="5.43" height="12.10" fill="#2a4a8a" stroke="#1c1014" stroke-width="1"/>
<rect x="297.53" y="364.30" width="5.43" height="12.10" fill="#2a4a8a" stroke="#1c1014" stroke-width="1"/>
<rect x="302.96" y="364.30" width="5.43" height="12.10" fill="#2a4a8a" stroke="#1c1014" stroke-width="1"/>
<rect x="308.38" y="364.30" width="5.43" height="12.10" fill="#2a4a8a" stroke="#1c1014" stroke-width="1"/>
<rect x="313.81" y="364.30" width="5.43" height="12.10" fill="#2a4a8a" stroke="#1c1014" stroke-width="1"/>
<rect x="319.23" y="364.30" width="5.43" height="12.10" fill="#2a4a8a" stroke="#1c1014" stroke-width="1"/>
<rect x="324.66" y="364.30" width="5.43" height="12.10" fill="#2a4a8a" stroke="#1c1014" stroke-width="1"/>
<rect x="330.09" y="364.30" width="5.43" height="12.10" fill="#2a4a8a" stroke="#1c1014" stroke-width="1"/>
<rect x="335.51" y="364.30" width="5.43" height="12.10" fill="#2a4a8a" stroke="#1c1014" stroke-width="1"/>
<rect x="340.94" y="364.30" width="5.43" height="12.10" fill="#2a4a8a" stroke="#1c1014" stroke-width="1"/>
<rect x="346.37" y="364.30" width="5.43" height="12.10" fill="#2a4a8a" stroke="#1c1014" stroke-width="1"/>
<rect x="351.79" y="364.30" width="5.43" height="12.10" fill="#2a4a8a" stroke="#1c1014" stroke-width="1"/>
<rect x="357.22" y="364.30" width="5.43" height="12.10" fill="#2a4a8a" stroke="#1c1014" stroke-width="1"/>
<rect x="362.65" y="364.30" width="5.43" height="12.10" fill="#2a4a8a" stroke="#1c1014" stroke-width="1"/>
<rect x="368.07" y="364.30" width="5.43" height="12.10" fill="#2a4a8a" stroke="#1c1014" stroke-width="1"/>
<rect x="107.6" y="301.2" width="265.90" height="12.1" fill="#fff" stroke="#777" stroke-width="0.8"/>
<path d="M183.57,301.2 V376.6" stroke="#111" stroke-width="1.2"/>
<path d="M232.41,301.2 V376.6" stroke="#111" stroke-width="1.2"/>
<text x="145.59" y="309.30" font-size="7" text-anchor="middle" fill="#222" textLength="38.7" lengthAdjust="spacingAndGlyphs" >PTCL-GATA3</text>
<text x="207.99" y="309.30" font-size="7" text-anchor="middle" fill="#222" textLength="35" lengthAdjust="spacingAndGlyphs" >Unclassified</text>
<text x="303.30" y="309.30" font-size="7" text-anchor="middle" fill="#222" textLength="36.6" lengthAdjust="spacingAndGlyphs" >PTCL-TBX21</text>
<text x="104.50" y="309.30" font-size="7" text-anchor="end" fill="#333" textLength="53.2" lengthAdjust="spacingAndGlyphs" >GEP Classification</text>
<text x="104.50" y="321.60" font-size="7" text-anchor="end" fill="#333" textLength="20" lengthAdjust="spacingAndGlyphs" >GATA3</text>
<text x="104.50" y="334.10" font-size="7" text-anchor="end" fill="#333" textLength="17" lengthAdjust="spacingAndGlyphs" >CCR4</text>
<text x="104.50" y="346.40" font-size="7" text-anchor="end" fill="#333" textLength="20.5" lengthAdjust="spacingAndGlyphs" >CXCR3</text>
<text x="104.50" y="358.80" font-size="7" text-anchor="end" fill="#333" textLength="18.5" lengthAdjust="spacingAndGlyphs" >TBX21</text>
<text x="104.50" y="372.40" font-size="7" text-anchor="end" fill="#333" textLength="51" lengthAdjust="spacingAndGlyphs" >IHC Classification</text>
<rect x="108.2" y="385.8" width="5.1" height="10.4" fill="#ea961c"/>
<text x="116.50" y="393.40" font-size="6.5" text-anchor="start" fill="#2a2a2a" textLength="32.7" lengthAdjust="spacingAndGlyphs" >PTCL-GATA3</text>
<rect x="158.8" y="385.8" width="5.1" height="10.4" fill="#2a4a8a"/>
<text x="167.50" y="393.40" font-size="6.5" text-anchor="start" fill="#2a2a2a" textLength="31.5" lengthAdjust="spacingAndGlyphs" >PTCL-TBX21</text>
<rect x="207.8" y="385.8" width="5.1" height="10.4" fill="#cbcbd0"/>
<text x="216.30" y="393.40" font-size="6.5" text-anchor="start" fill="#2a2a2a" textLength="28.9" lengthAdjust="spacingAndGlyphs" >Unclassified</text>
<rect x="254.8" y="385.8" width="5.1" height="10.4" fill="#b00c37"/>
<text x="263.10" y="393.40" font-size="6.5" text-anchor="start" fill="#2a2a2a" textLength="19.2" lengthAdjust="spacingAndGlyphs" >Positive</text>
<rect x="291.3" y="385.8" width="5.1" height="10.4" fill="#6ab342"/>
<text x="299.80" y="393.40" font-size="6.5" text-anchor="start" fill="#2a2a2a" textLength="22.9" lengthAdjust="spacingAndGlyphs" >Negative</text>
<rect x="332" y="385.8" width="5.1" height="10.4" fill="#5a2a78"/>
<text x="341.00" y="393.40" font-size="6.5" text-anchor="start" fill="#2a2a2a" textLength="78" lengthAdjust="spacingAndGlyphs" >Not Available/Not Interpretable</text>
<text x="423.60" y="298.20" font-size="7" text-anchor="middle" fill="#222" textLength="87.7" lengthAdjust="spacingAndGlyphs" >Frequency of IHC Positivity in</text>
<text x="423.70" y="306.80" font-size="7" text-anchor="middle" fill="#222" textLength="61.4" lengthAdjust="spacingAndGlyphs" >PTCL-NOS Subtypes</text>
<rect x="381.7" y="314.2" width="34.12" height="5.4" fill="#2a4a8a"/>
<rect x="381.7" y="320.3" width="63.94" height="5.4" fill="#ea961c"/>
<rect x="381.7" y="326.5" width="36.16" height="5.4" fill="#2a4a8a"/>
<rect x="381.7" y="332.3" width="67.27" height="5.4" fill="#ea961c"/>
<rect x="381.7" y="338.6" width="65.41" height="5.4" fill="#2a4a8a"/>
<rect x="381.7" y="344.4" width="5.69" height="5.4" fill="#ea961c"/>
<rect x="381.7" y="350.6" width="56.06" height="5.4" fill="#2a4a8a"/>
<rect x="381.7" y="356.3" width="5.36" height="5.4" fill="#ea961c"/>
<path d="M381.7,311.2 V362.3 H465.4" fill="none" stroke="#1a1a1a" stroke-width="1.3"/>
<path d="M381.70,362.3 V365.4" stroke="#1a1a1a" stroke-width="1.1"/>
<text x="381.70" y="374.40" font-size="7" text-anchor="middle" fill="#333" >0</text>
<path d="M397.95,362.3 V365.4" stroke="#1a1a1a" stroke-width="1.1"/>
<text x="397.95" y="374.40" font-size="7" text-anchor="middle" fill="#333" >20</text>
<path d="M414.20,362.3 V365.4" stroke="#1a1a1a" stroke-width="1.1"/>
<text x="414.20" y="374.40" font-size="7" text-anchor="middle" fill="#333" >40</text>
<path d="M430.45,362.3 V365.4" stroke="#1a1a1a" stroke-width="1.1"/>
<text x="430.45" y="374.40" font-size="7" text-anchor="middle" fill="#333" >60</text>
<path d="M446.70,362.3 V365.4" stroke="#1a1a1a" stroke-width="1.1"/>
<text x="446.70" y="374.40" font-size="7" text-anchor="middle" fill="#333" >80</text>
<path d="M462.95,362.3 V365.4" stroke="#1a1a1a" stroke-width="1.1"/>
<text x="462.95" y="374.40" font-size="7" text-anchor="middle" fill="#333" >100</text>
</svg>
</body></html>
